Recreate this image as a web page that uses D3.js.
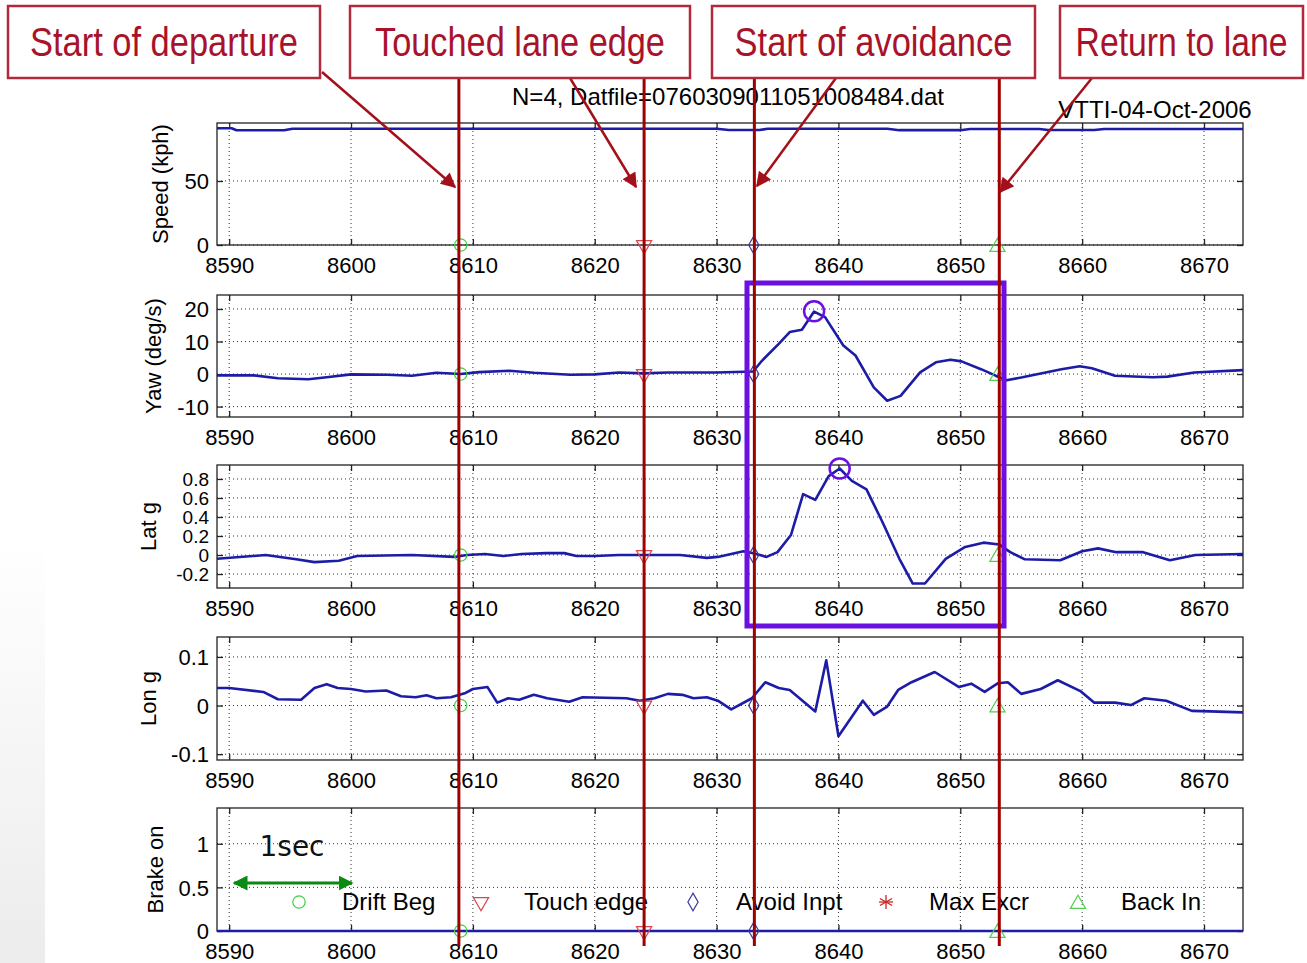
<!DOCTYPE html>
<html><head><meta charset="utf-8">
<script src="https://cdn.jsdelivr.net/npm/d3@7"></script>
<style>body{margin:0;background:#fff;} svg{display:block;}</style>
</head><body>
<svg id="c" width="1307" height="963"></svg>
<script>
// ---------------- data ----------------
const timeTicks = [8590, 8600, 8610, 8620, 8630, 8640, 8650, 8660, 8670];
const timeDomain = [8589, 8673.2];

const speedT = [8589, 8590.2, 8590.6, 8594.5, 8595.2, 8630, 8631, 8633.5, 8634.2, 8644, 8645, 8650, 8650.8, 8656.5, 8657.2, 8661, 8661.8, 8673.2];
const speedV = [91.2, 91.2, 89.6, 89.6, 90.8, 90.8, 89.8, 89.8, 90.8, 90.8, 89.7, 89.7, 90.6, 90.6, 89.8, 89.8, 90.6, 90.6];

const yawT = [8589, 8592, 8594, 8596.5, 8598, 8600, 8603, 8605, 8607, 8609, 8610.5, 8613, 8615, 8618, 8620, 8622, 8624, 8626, 8630, 8633, 8633.7, 8635.1, 8636, 8637, 8638, 8638.9, 8640.4, 8641.4, 8642.9, 8644, 8645.1, 8646.7, 8648, 8649.2, 8650.1, 8651.7, 8652.9, 8653.8, 8655.1, 8657, 8658.3, 8659.8, 8660.8, 8662.7, 8665.8, 8667, 8669.2, 8673.2];
const yawV = [-0.4, -0.4, -1.3, -1.6, -1.0, -0.1, -0.2, -0.5, 0.4, 0.0, 0.6, 1.0, 0.4, -0.2, -0.1, 0.5, 0.2, 0.5, 0.5, 0.8, 4.0, 9.3, 12.9, 13.6, 19.2, 17.5, 8.8, 5.7, -4.1, -8.2, -6.7, 0.5, 3.6, 4.4, 3.9, 1.5, -0.5, -1.9, -1.0, 0.5, 1.5, 2.4, 1.8, -0.5, -1.0, -0.8, 0.5, 1.2];

const latT = [8589, 8593, 8595.5, 8597, 8599, 8600.5, 8605, 8608.5, 8609.5, 8611, 8612.5, 8614, 8616, 8617.5, 8618.5, 8620, 8622, 8625, 8627, 8629.2, 8630.1, 8632.2, 8633.1, 8634.1, 8635, 8636.1, 8637.1, 8638.1, 8639.2, 8640.1, 8641.1, 8642.3, 8643.6, 8645, 8646.1, 8647.1, 8648.8, 8650.4, 8651.9, 8653.2, 8654.1, 8655.3, 8658.2, 8660, 8661.3, 8662.8, 8665, 8667.2, 8669.3, 8673.2];
const latV = [-0.04, 0.0, -0.045, -0.075, -0.06, -0.01, 0.0, -0.02, 0.0, 0.01, -0.01, 0.01, 0.02, 0.02, -0.01, -0.01, 0.0, 0.0, 0.0, -0.03, -0.02, 0.04, 0.015, -0.02, 0.03, 0.21, 0.64, 0.58, 0.83, 0.91, 0.78, 0.69, 0.35, -0.04, -0.30, -0.30, -0.04, 0.085, 0.13, 0.11, 0.03, -0.045, -0.055, 0.04, 0.07, 0.03, 0.03, -0.055, 0.0, 0.01];

const lonT = [8589, 8590, 8592.8, 8594, 8595.9, 8597, 8598, 8598.9, 8600, 8601.2, 8602.9, 8604.1, 8605.3, 8606.2, 8607, 8608.2, 8609.4, 8610, 8611.2, 8612, 8612.9, 8613.8, 8615, 8616.1, 8617.9, 8619, 8622.6, 8623.7, 8624.9, 8626, 8627.2, 8628.1, 8629.2, 8630.1, 8631.2, 8632.9, 8634, 8635.1, 8636, 8638.1, 8639, 8640, 8642, 8642.9, 8644, 8644.9, 8646, 8647.9, 8649.9, 8650.9, 8652, 8653.1, 8653.9, 8655, 8656.6, 8658, 8659.9, 8661, 8662.7, 8664, 8665.1, 8666.9, 8669, 8670.5, 8673.2];
const lonV = [0.036, 0.036, 0.028, 0.013, 0.012, 0.036, 0.044, 0.036, 0.034, 0.029, 0.031, 0.019, 0.017, 0.021, 0.015, 0.017, 0.026, 0.034, 0.038, 0.006, 0.015, 0.012, 0.022, 0.015, 0.008, 0.017, 0.015, 0.010, 0.015, 0.024, 0.022, 0.015, 0.017, 0.010, -0.008, 0.015, 0.048, 0.036, 0.032, -0.012, 0.093, -0.063, 0.010, -0.019, -0.002, 0.032, 0.048, 0.069, 0.038, 0.045, 0.028, 0.046, 0.048, 0.024, 0.034, 0.052, 0.029, 0.006, 0.006, 0.001, 0.015, 0.010, -0.011, -0.012, -0.014];

const brakeT = [8589, 8673.2];
const brakeV = [0, 0];

const speedTicks = [0, 50];
const yawTicks = [-10, 0, 10, 20];
const latTicks = [-0.2, 0, 0.2, 0.4, 0.6, 0.8];
const lonTicks = [-0.1, 0, 0.1];
const brakeTicks = [0, 0.5, 1];

const panelLabels = ["Speed (kph)", "Yaw (deg/s)", "Lat g", "Lon g", "Brake on"];
const speedRange = [0, 95.3];
const yawRange = [-13.2, 24.3];
const latRange = [-0.347, 0.947];
const lonRange = [-0.112, 0.141];
const brakeRange = [0, 1.41];

const eventNames = ["Drift Beg", "Touch edge", "Avoid Inpt", "Max Excr", "Back In"];
const eventTimes = [8609.0, 8624.05, 8633.05, null, 8653.05];
const guideTimes = [8608.85, 8624.05, 8633.1, 8653.2];
const calloutLabels = ["Start of departure", "Touched lane edge", "Start of avoidance", "Return to lane"];
const peakYaw = [8638, 19.3];
const peakLat = [8640.1, 0.91];
const titleText = "N=4, Datfile=0760309011051008484.dat";
const dateText = "VTTI-04-Oct-2006";

// ---------------- drawing ----------------
const svg = d3.select("#c");
const FONT = "'Liberation Sans', Arial, sans-serif";
const LINEC = "#1c1ca6";
const RED = "#a3101c";

const defs = svg.append("defs");
const lg = defs.append("linearGradient").attr("id", "lg").attr("x1", 0).attr("x2", 0).attr("y1", 0).attr("y2", 1);
lg.append("stop").attr("offset", "0%").attr("stop-color", "#fff");
lg.append("stop").attr("offset", "100%").attr("stop-color", "#ececec");
svg.append("rect").attr("x", 0).attr("y", 540).attr("width", 45).attr("height", 423).attr("fill", "url(#lg)");

const x = d3.scaleLinear().domain(timeDomain).range([217, 1243]);

const panels = [
  {T: speedT, V: speedV, ticks: speedTicks, dom: speedRange, top: 123, bot: 245, fs: 22},
  {T: yawT, V: yawV, ticks: yawTicks, dom: yawRange, top: 295, bot: 417, fs: 22},
  {T: latT, V: latV, ticks: latTicks, dom: latRange, top: 465, bot: 588, fs: 19},
  {T: lonT, V: lonV, ticks: lonTicks, dom: lonRange, top: 637, bot: 760, fs: 22},
  {T: brakeT, V: brakeV, ticks: brakeTicks, dom: brakeRange, top: 808, bot: 931, fs: 22}
];
const labelX = [160, 153, 148, 148, 155];

const symCircle = d3.symbol().type(d3.symbolCircle).size(120);
const symTri = d3.symbol().type(d3.symbolTriangle).size(100);
const symDia = d3.symbol().type(d3.symbolDiamond).size(90);
const markerColors = ["#3fcf4a", "#d8464e", "#3a3a9a", "#cc2222", "#4fd04f"];

function drawMarker(g, i, cx, cy) {
  const c = markerColors[i];
  if (i === 0) g.append("path").attr("d", symCircle()).attr("transform", `translate(${cx},${cy})`).attr("fill", "none").attr("stroke", c).attr("stroke-width", 1.2);
  else if (i === 1) g.append("path").attr("d", symTri()).attr("transform", `translate(${cx},${cy}) rotate(180)`).attr("fill", "none").attr("stroke", c).attr("stroke-width", 1.2);
  else if (i === 2) g.append("path").attr("d", symDia()).attr("transform", `translate(${cx},${cy})`).attr("fill", "none").attr("stroke", c).attr("stroke-width", 1.2);
  else if (i === 3) {
    const r = 7;
    [0, 60, 120].forEach(a => {
      const dx = r * Math.sin(a * Math.PI / 180), dy = r * Math.cos(a * Math.PI / 180);
      g.append("line").attr("x1", cx - dx).attr("y1", cy - dy).attr("x2", cx + dx).attr("y2", cy + dy).attr("stroke", c).attr("stroke-width", 1.3);
    });
    g.append("line").attr("x1", cx - r).attr("y1", cy).attr("x2", cx + r).attr("y2", cy).attr("stroke", c).attr("stroke-width", 1.3);
  }
  else g.append("path").attr("d", symTri()).attr("transform", `translate(${cx},${cy + 2})`).attr("fill", "none").attr("stroke", c).attr("stroke-width", 1.2);
}

panels.forEach((p, pi) => {
  const y = d3.scaleLinear().domain(p.dom).range([p.bot, p.top]);
  const g = svg.append("g");
  g.selectAll(".gx").data(timeTicks).enter().append("line")
    .attr("x1", d => x(d)).attr("x2", d => x(d)).attr("y1", p.top).attr("y2", p.bot)
    .attr("stroke", "#333").attr("stroke-width", 1).attr("stroke-dasharray", "1,3");
  g.selectAll(".gy").data(p.ticks).enter().append("line")
    .attr("x1", 217).attr("x2", 1243).attr("y1", d => y(d)).attr("y2", d => y(d))
    .attr("stroke", "#333").attr("stroke-width", 1).attr("stroke-dasharray", "1,3");
  const ax = d3.axisBottom(x).tickValues(timeTicks).tickSize(-6).tickPadding(12).tickFormat(d3.format("d"));
  const gx = g.append("g").attr("transform", `translate(0,${p.bot})`).call(ax);
  const ay = d3.axisLeft(y).tickValues(p.ticks).tickSize(-6).tickPadding(8).tickFormat(d => String(d));
  const gy = g.append("g").attr("transform", `translate(217,0)`).call(ay);
  const at = d3.axisTop(x).tickValues(timeTicks).tickSize(-6).tickFormat("");
  g.append("g").attr("transform", `translate(0,${p.top})`).call(at);
  const ar = d3.axisRight(y).tickValues(p.ticks).tickSize(-6).tickFormat("");
  g.append("g").attr("transform", `translate(1243,0)`).call(ar);
  g.selectAll(".domain").attr("stroke", "none");
  g.selectAll(".tick line").attr("stroke", "#222").attr("stroke-width", 1.3);
  g.selectAll(".tick text").attr("font-family", FONT).attr("font-size", 22).attr("fill", "#000");
  gx.selectAll(".tick text").attr("dy", "0.71em");
  gy.selectAll(".tick text").attr("dy", "0.35em").attr("font-size", p.fs);
  g.append("rect").attr("x", 217).attr("y", p.top).attr("width", 1243 - 217).attr("height", p.bot - p.top)
    .attr("fill", "none").attr("stroke", "#222").attr("stroke-width", 1.3);
  g.append("text").attr("transform", `translate(${labelX[pi]},${(p.top + p.bot) / 2}) rotate(-90)`)
    .attr("text-anchor", "middle").attr("dy", "0.35em").attr("font-family", FONT).attr("font-size", 22).text(panelLabels[pi]);
  const line = d3.line().x((d, i) => x(p.T[i])).y(d => y(d));
  g.append("path").datum(p.V).attr("d", line).attr("fill", "none").attr("stroke", LINEC).attr("stroke-width", 2.6).attr("stroke-linejoin", "round");
  eventTimes.forEach((t, i) => { if (t !== null) drawMarker(g, i, x(t), y(0)); });
  p.y = y;
});

// legend in brake panel
const legX = [299, 481, 693, 886, 1078];
const legG = svg.append("g");
eventNames.forEach((n, i) => {
  drawMarker(legG, i, legX[i], 902);
  legG.append("text").attr("x", legX[i] + 43).attr("y", 902).attr("dy", "0.35em")
    .attr("font-family", FONT).attr("font-size", 24).text(n);
});

// titles
svg.append("text").attr("x", 728).attr("y", 97).attr("dy", "0.35em").attr("text-anchor", "middle")
  .attr("font-family", FONT).attr("font-size", 24).text(titleText);
svg.append("text").attr("x", 1155).attr("y", 110).attr("dy", "0.35em").attr("text-anchor", "middle")
  .attr("font-family", FONT).attr("font-size", 24).text(dateText);

// purple highlight
const PURP = "#6a10e0";
svg.append("rect").attr("x", 747).attr("y", 283).attr("width", 257).attr("height", 343)
  .attr("fill", "none").attr("stroke", PURP).attr("stroke-width", 5);
svg.append("circle").attr("cx", x(peakYaw[0])).attr("cy", panels[1].y(peakYaw[1])).attr("r", 10)
  .attr("fill", "none").attr("stroke", PURP).attr("stroke-width", 2.5);
svg.append("circle").attr("cx", x(peakLat[0])).attr("cy", panels[2].y(peakLat[1])).attr("r", 10)
  .attr("fill", "none").attr("stroke", PURP).attr("stroke-width", 2.5);

// 1sec arrow
const GR = "#0a8a12";
defs.append("marker").attr("id", "ga").attr("viewBox", "0 0 10 10").attr("refX", 9).attr("refY", 5)
  .attr("markerWidth", 5).attr("markerHeight", 5).attr("orient", "auto-start-reverse")
  .append("path").attr("d", "M0,0L10,5L0,10z").attr("fill", GR);
svg.append("line").attr("x1", 234).attr("x2", 352).attr("y1", 883).attr("y2", 883)
  .attr("stroke", GR).attr("stroke-width", 3).attr("marker-start", "url(#ga)").attr("marker-end", "url(#ga)");
svg.append("text").attr("x", 292).attr("y", 846).attr("dy", "0.35em").attr("text-anchor", "middle")
  .attr("font-family", "'DejaVu Sans', sans-serif").attr("font-size", 28).attr("fill", "#111").text("1sec");

// red vertical guide lines
svg.selectAll(".vl").data(guideTimes).enter().append("line")
  .attr("x1", d => x(d)).attr("x2", d => x(d)).attr("y1", 78).attr("y2", 946)
  .attr("stroke", "#a00000").attr("stroke-width", 3);

// callout arrows
defs.append("marker").attr("id", "ra").attr("viewBox", "0 0 10 10").attr("refX", 9).attr("refY", 5)
  .attr("markerWidth", 7).attr("markerHeight", 6).attr("orient", "auto")
  .append("path").attr("d", "M0,0L10,5L0,10z").attr("fill", RED);
const arrows = [[322, 72, 455, 187], [570, 78, 636, 187], [836, 78, 757, 186], [1092, 78, 1000, 192]];
arrows.forEach(a => {
  svg.append("line").attr("x1", a[0]).attr("y1", a[1]).attr("x2", a[2]).attr("y2", a[3])
    .attr("stroke", RED).attr("stroke-width", 2.5).attr("marker-end", "url(#ra)");
});

// callout boxes (narrow lettering via horizontal scaling)
const boxes = [[8, 6, 312, 72], [350, 6, 340, 72], [712, 6, 323, 72], [1060, 6, 243, 72]];
const textW = [268, 290, 278, 212];
boxes.forEach((b, i) => {
  svg.append("rect").attr("x", b[0]).attr("y", b[1]).attr("width", b[2]).attr("height", b[3])
    .attr("fill", "#fff").attr("stroke", "#b02a3c").attr("stroke-width", 2.5);
  const t = svg.append("text").attr("x", 0).attr("y", 0).attr("dy", "0.35em")
    .attr("text-anchor", "middle").attr("font-family", "'Liberation Sans Narrow', 'Arial Narrow', sans-serif")
    .attr("font-size", 40).attr("fill", "#a8122a").text(calloutLabels[i]);
  const len = t.node().getComputedTextLength();
  const sx = Math.min(1, textW[i] / len);
  t.attr("transform", `translate(${b[0] + b[2] / 2},${b[1] + b[3] / 2}) scale(${sx},1)`);
});
</script>
</body></html>
